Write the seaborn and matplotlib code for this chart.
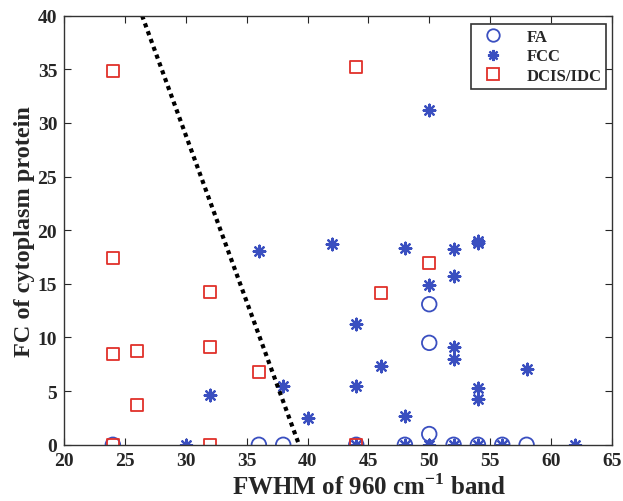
import matplotlib
matplotlib.use("Agg")
import matplotlib.pyplot as plt
import seaborn as sns
import pandas as pd
from matplotlib.lines import Line2D

# FA (open circles)
fa_x = [24, 36, 38, 44, 48, 50, 50, 50, 52, 54, 56, 58]
fa_y = [0, 0, 0, 0, 0, 13.1, 9.5, 1.0, 0, 0, 0, 0]

# FCC (asterisks)
fcc_x = [30, 32, 36, 38, 40, 42, 44, 44, 44, 46, 48, 48, 48, 50, 50, 50,
         52, 52, 52, 52, 52, 54, 54, 54, 54, 54, 56, 58, 62]
fcc_y = [0, 4.6, 18.1, 5.5, 2.5, 18.7, 11.3, 5.5, 0, 7.3, 18.3, 2.7, 0, 31.2, 14.9, 0,
         18.2, 15.7, 9.1, 8.0, 0, 19.0, 18.8, 5.3, 4.3, 0, 0, 7.1, 0]

# DCIS/IDC (open squares)
dcis_x = [24, 24, 24, 24, 26, 26, 32, 32, 32, 36, 44, 44, 46, 50]
dcis_y = [34.8, 17.4, 8.5, 0, 8.7, 3.7, 14.2, 9.1, 0, 6.8, 35.2, 0, 14.1, 16.9]

# dotted separation line
line_x = [26.4, 39.3]
line_y = [40, 0]

blue = "#3a4fc0"
red = "#e0302a"

sns.set_style("ticks")
plt.rcParams["font.family"] = ["Liberation Serif", "DejaVu Serif"]
plt.rcParams["font.weight"] = "bold"
plt.rcParams["mathtext.fontset"] = "custom"
plt.rcParams["mathtext.rm"] = "Liberation Serif:bold"
plt.rcParams["mathtext.bf"] = "Liberation Serif:bold"

fig = plt.figure(figsize=(6.23, 5.02), dpi=100)
ax = fig.add_axes([0.103, 0.112, 0.879, 0.855])

fa = pd.DataFrame({"x": fa_x, "y": fa_y})
fcc = pd.DataFrame({"x": fcc_x, "y": fcc_y})
dcis = pd.DataFrame({"x": dcis_x, "y": dcis_y})

sns.lineplot(x=line_x, y=line_y, ax=ax, color="black", linewidth=3,
             linestyle=(0, (1, 1)), legend=False)
sns.scatterplot(data=fa, x="x", y="y", ax=ax, marker="o", s=110,
                facecolor="none", edgecolor=blue, linewidth=1.3)
sns.scatterplot(data=fcc, x="x", y="y", ax=ax, marker=(8, 2, 0), s=70,
                edgecolor=blue, color=blue, linewidth=1.6)
sns.scatterplot(data=dcis, x="x", y="y", ax=ax, marker="s", s=75,
                facecolor="none", edgecolor=red, linewidth=1.3)

ax.set_xlim(20, 65)
ax.set_ylim(0, 40)
ax.set_xticks(range(20, 66, 5))
ax.set_yticks(range(0, 41, 5))
ax.tick_params(direction="in", length=5, top=True, right=True, labelsize=14)
ax.tick_params(axis="x", pad=5)
ax.tick_params(axis="y", pad=5)
for lbl in ax.get_xticklabels() + ax.get_yticklabels():
    lbl.set_fontweight("bold")
for s in ax.spines.values():
    s.set_linewidth(1.0)
    s.set_color("#333333")

ax.set_xlabel("FWHM of 960 cm$^{\\mathrm{-1}}$ band", fontsize=18, fontweight="bold")
ax.xaxis.set_label_coords(0.557, -0.066)
ax.set_ylabel("FC of cytoplasm protein", fontsize=17.5, fontweight="bold")
ax.yaxis.set_label_coords(-0.053, 0.5)

handles = [
    Line2D([], [], marker="o", linestyle="none", markersize=9, markerfacecolor="none",
           markeredgecolor=blue, markeredgewidth=1.3),
    Line2D([], [], marker=(8, 2, 0), linestyle="none", markersize=8,
           markeredgecolor=blue, color=blue, markeredgewidth=1.6),
    Line2D([], [], marker="s", linestyle="none", markersize=8, markerfacecolor="none",
           markeredgecolor=red, markeredgewidth=1.3),
]
leg = ax.legend(handles, ["FA", "FCC", "DCIS/IDC"], loc="upper right",
                bbox_to_anchor=(0.99, 0.98), fancybox=False, framealpha=1,
                edgecolor="#333333", prop={"weight": "bold", "size": 12},
                handletextpad=1.0, borderpad=0.3, labelspacing=0.2, borderaxespad=0.0)
leg.get_frame().set_linewidth(1.2)

fig.savefig("out.png", dpi=100)
